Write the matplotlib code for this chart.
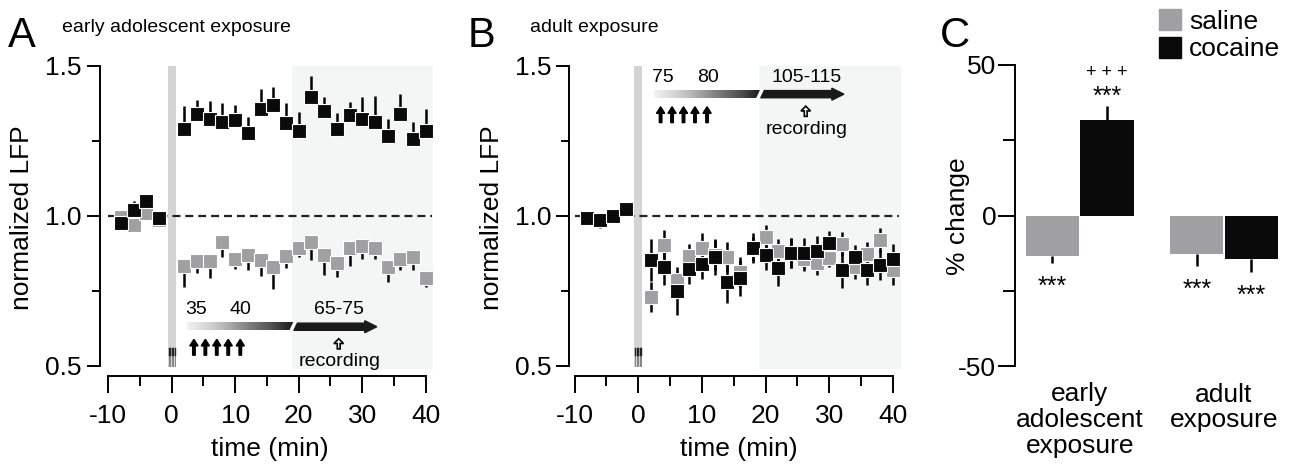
import numpy as np
import matplotlib.pyplot as plt
from matplotlib.patches import Rectangle, FancyArrow, Patch

plt.rcParams['font.family'] = ['Liberation Sans', 'DejaVu Sans']
plt.rcParams['axes.unicode_minus'] = False

# ---- data: panel A (early adolescent exposure) ----
t_base = [-8, -6, -4, -2]
t_post = [2, 4, 6, 8, 10, 12, 14, 16, 18, 20, 22, 24, 26, 28, 30, 32, 34, 36, 38, 40]

a_coc_base = [0.976, 1.018, 1.048, 0.993]
a_coc_base_err = [0.005, 0.03, 0.005, 0.02]
a_sal_base = [0.995, 0.968, 1.011, 0.985]
a_sal_base_err = [0.005, 0.005, 0.005, 0.02]

a_coc = [1.289, 1.340, 1.323, 1.313, 1.321, 1.276, 1.358, 1.371, 1.310, 1.284,
         1.396, 1.351, 1.289, 1.336, 1.324, 1.313, 1.265, 1.340, 1.257, 1.284]
a_coc_err = [0.077, 0.047, 0.059, 0.064, 0.050, 0.055, 0.066, 0.058, 0.067, 0.061,
             0.072, 0.044, 0.055, 0.044, 0.071, 0.086, 0.058, 0.066, 0.057, 0.072]
a_sal = [0.834, 0.848, 0.848, 0.912, 0.857, 0.868, 0.851, 0.829, 0.866, 0.894,
         0.912, 0.868, 0.843, 0.894, 0.901, 0.894, 0.829, 0.855, 0.863, 0.794]
a_sal_err = [0.070, 0.039, 0.057, 0.050, 0.033, 0.050, 0.053, 0.072, 0.040, 0.033,
             0.059, 0.067, 0.046, 0.062, 0.045, 0.037, 0.050, 0.037, 0.045, 0.033]

# ---- data: panel B (adult exposure) ----
b_coc_base = [0.994, 0.986, 1.000, 1.024]
b_coc_base_err = [0.015, 0.025, 0.020, 0.020]
b_sal_base = [0.988, 0.990, 0.995, 1.020]
b_sal_base_err = [0.010, 0.010, 0.010, 0.010]

b_coc = [0.852, 0.828, 0.750, 0.822, 0.839, 0.864, 0.778, 0.791, 0.892, 0.870,
         0.826, 0.876, 0.876, 0.883, 0.909, 0.819, 0.864, 0.819, 0.836, 0.856]
b_coc_err = [0.070, 0.060, 0.080, 0.050, 0.050, 0.060, 0.070, 0.060, 0.050, 0.050,
             0.060, 0.050, 0.050, 0.050, 0.040, 0.060, 0.040, 0.050, 0.050, 0.050]
b_sal = [0.730, 0.902, 0.786, 0.867, 0.894, 0.870, 0.864, 0.811, 0.890, 0.931,
         0.883, 0.875, 0.857, 0.841, 0.859, 0.906, 0.828, 0.872, 0.920, 0.820]
b_sal_err = [0.050, 0.050, 0.030, 0.040, 0.050, 0.050, 0.050, 0.050, 0.040, 0.040,
             0.040, 0.050, 0.040, 0.040, 0.030, 0.040, 0.040, 0.040, 0.040, 0.050]

# ---- data: panel C (% change) ----
groups = ['early\nadolescent\nexposure', 'adult\nexposure']
sal_pct = [-13.4, -12.7]
sal_pct_err = [2.4, 4.2]
coc_pct = [31.8, -14.5]
coc_pct_err = [4.4, 4.3]

SAL_C = '#a0a0a2'
COC_C = '#0a0a0a'
SHADE = '#f3f6f4'
FS = 19

W, H = 1297, 466
fig = plt.figure(figsize=(W / 100, H / 100), dpi=100)


def add_ax(left, right, top, bottom):
    return fig.add_axes([left / W, 1 - bottom / H, (right - left) / W, (bottom - top) / H])


def one_sided(err, up):
    z = [0] * len(err)
    return [z, err] if up else [err, z]


def protocol(ax, ybar, lab1, lab2, lab3):
    # gradient bar (injection days) + dark arrow (recording)
    grad = np.linspace(0.12, 0.92, 256).reshape(1, -1)
    ax.imshow(grad, extent=[2.4, 19.4, ybar - 0.012, ybar + 0.012], aspect='auto',
              cmap='Greys', vmin=0, vmax=1, zorder=2)
    ax.add_patch(FancyArrow(19.2, ybar, 13.1, 0, width=0.024, head_width=0.04,
                            head_length=1.9, length_includes_head=True,
                            color='#1a1a1a', zorder=2))
    ax.plot([18.7, 19.5], [ybar - 0.018, ybar + 0.018], color='white', lw=2.5,
            zorder=2.5, solid_capstyle='butt')
    for xa in [3.5, 5.3, 7.1, 8.9, 10.8]:
        ax.add_patch(FancyArrow(xa, ybar - 0.095, 0, 0.053, width=0.4, head_width=1.3,
                                head_length=0.022, length_includes_head=True,
                                color='k', zorder=3))
    ax.add_patch(FancyArrow(26.3, ybar - 0.074, 0, 0.034, width=0.45, head_width=1.5,
                            head_length=0.016, length_includes_head=True,
                            fc='white', ec='k', lw=1.2, zorder=3))
    ax.text(3.8, ybar + 0.056, lab1, fontsize=14, ha='center', va='center')
    ax.text(10.9, ybar + 0.056, lab2, fontsize=14, ha='center', va='center')
    ax.text(26.4, ybar + 0.056, lab3, fontsize=14, ha='center', va='center')
    ax.text(26.4, ybar - 0.117, 'recording', fontsize=14, ha='center', va='center')


def time_panel(ax, xl, coc_base, coc_base_err, sal_base, sal_base_err,
               coc, coc_err, sal, sal_err, two_sided):
    ax.add_patch(Rectangle((19.0, 0.49), 22.2, 1.01, color=SHADE, lw=0, zorder=0))
    ax.add_patch(Rectangle((-0.65, 0.497), 1.3, 1.003, color='#d4d4d4', lw=0, zorder=0.5))
    for xi in [-0.45, -0.22, 0, 0.22, 0.45]:
        ax.plot([xi, xi], [0.5, 0.56], color='#777777', lw=0.6, zorder=0.6)
        ax.plot([xi, xi], [0.535, 0.56], color='#222222', lw=1.0, zorder=0.6)
    ax.plot([-10, 41], [1.0, 1.0], color='#222222', lw=1.6, ls=(0, (3.6, 2.2)), zorder=1)

    ts = t_base + t_post
    if two_sided:
        ce = coc_base_err + coc_err
        se = sal_base_err + sal_err
    else:
        ce = one_sided(coc_base_err + coc_err, True)
        se = one_sided(sal_base_err + sal_err, False)
    ax.errorbar(ts, sal_base + sal, yerr=se, fmt='none', ecolor='k', elinewidth=1.8,
                capsize=0, zorder=3)
    ax.errorbar(ts, coc_base + coc, yerr=ce, fmt='none', ecolor='k', elinewidth=1.8,
                capsize=0, zorder=3)
    ax.plot(ts, sal_base + sal, 's', color=SAL_C, ms=9.5, mec='white', mew=0.8, zorder=4)
    ax.plot(ts, coc_base + coc, 's', color=COC_C, ms=9.5, mec='white', mew=0.8, zorder=5)

    for s in ['top', 'right']:
        ax.spines[s].set_visible(False)
    ax.spines['left'].set_bounds(0.5, 1.5)
    ax.spines['bottom'].set_bounds(-10, 40)
    for s in ['left', 'bottom']:
        ax.spines[s].set_linewidth(1.4)
    ax.set_yticks([0.5, 1.0, 1.5])
    ax.set_yticklabels(['0.5', '1.0', '1.5'])
    ax.set_yticks([0.75, 1.25], minor=True)
    ax.set_xticks([-10, 0, 10, 20, 30, 40])
    ax.set_xticks([-5, 5, 15, 25, 35], minor=True)
    ax.tick_params(axis='y', which='major', length=9.5, width=1.4, labelsize=FS, pad=3.5)
    ax.tick_params(axis='y', which='minor', length=5.5, width=1.4)
    ax.tick_params(axis='x', which='major', length=12.5, width=1.4, labelsize=FS, pad=8)
    ax.tick_params(axis='x', which='minor', length=7, width=1.4)
    ax.set_xlabel('time (min)', fontsize=FS, labelpad=6)
    ax.set_ylabel('normalized LFP', fontsize=FS, labelpad=8)
    ax.set_xlim(*xl)
    ax.set_ylim(0.4666, 1.52)


# ---- panel A ----
axA = add_ax(100, 440, 60, 375.7)
time_panel(axA, (-11.29, 42.25), a_coc_base, a_coc_base_err, a_sal_base, a_sal_base_err,
           a_coc, a_coc_err, a_sal, a_sal_err, two_sided=False)
protocol(axA, 0.63, '35', '40', '65-75')
axA.set_xlim(-11.29, 42.25)
axA.set_ylim(0.4666, 1.52)

# ---- panel B ----
axB = add_ax(569.3, 909, 60, 375.7)
time_panel(axB, (-10.84, 42.52), b_coc_base, b_coc_base_err, b_sal_base, b_sal_base_err,
           b_coc, b_coc_err, b_sal, b_sal_err, two_sided=True)
protocol(axB, 1.406, '75', '80', '105-115')
axB.set_xlim(-10.84, 42.52)
axB.set_ylim(0.4666, 1.52)

# ---- panel C ----
axC = add_ax(1015, 1290, 55, 370)
gx = np.array([0, 2.648])
axC.bar(gx - 0.5, sal_pct, width=0.98, color=SAL_C, zorder=2)
axC.bar(gx + 0.5, coc_pct, width=0.98, color=COC_C, zorder=2)
for xs, vals, errs in [(gx - 0.5, sal_pct, sal_pct_err), (gx + 0.5, coc_pct, coc_pct_err)]:
    lo = [e if v < 0 else 0 for v, e in zip(vals, errs)]
    hi = [e if v >= 0 else 0 for v, e in zip(vals, errs)]
    axC.errorbar(xs, vals, yerr=[lo, hi], fmt='none', ecolor='k', elinewidth=1.8,
                 capsize=0, zorder=1)
    for x, v, e in zip(xs, vals, errs):
        end = v + e if v >= 0 else v - e
        off = 2 if v >= 0 else -22
        axC.annotate('***', (x, end), xytext=(0, off), textcoords='offset points',
                     ha='center', va='baseline', fontsize=18)
axC.annotate('+ + +', (gx[0] + 0.5, coc_pct[0] + coc_pct_err[0]), xytext=(0, 21),
             textcoords='offset points', ha='center', va='baseline', fontsize=13)
axC.set_xlim(-1.187, 3.859)
axC.set_ylim(-51.3, 53.3)
for s in ['top', 'right', 'bottom']:
    axC.spines[s].set_visible(False)
axC.spines['left'].set_bounds(-50, 50)
axC.spines['left'].set_linewidth(1.4)
axC.set_yticks([-50, 0, 50])
axC.set_yticks([-25, 25], minor=True)
axC.tick_params(axis='y', which='major', length=12.5, width=1.4, labelsize=FS, pad=1)
axC.tick_params(axis='y', which='minor', length=8.5, width=1.4)
axC.set_xticks(gx)
axC.set_xticklabels(groups, fontsize=FS, linespacing=1.1)
axC.tick_params(axis='x', length=0, pad=9)
axC.set_ylabel('% change', fontsize=FS)
axC.yaxis.set_label_coords(-0.165, 0.487)
axC.legend(handles=[Patch(color=SAL_C), Patch(color=COC_C)], labels=['saline', 'cocaine'],
           loc='upper left', bbox_to_anchor=(1159 / W, 1 - 9 / H),
           bbox_transform=fig.transFigure, frameon=False, fontsize=FS,
           handlelength=0.85, handleheight=0.85, handletextpad=0.3,
           labelspacing=0.12, borderpad=0, borderaxespad=0)

# ---- panel letters and titles ----
fig.text(8 / W, 1 - 47 / H, 'A', fontsize=30, va='baseline')
fig.text(62 / W, 1 - 32 / H, 'early adolescent exposure', fontsize=14, va='baseline')
fig.text(468 / W, 1 - 47 / H, 'B', fontsize=30, va='baseline')
fig.text(530 / W, 1 - 32 / H, 'adult exposure', fontsize=14, va='baseline')
fig.text(940 / W, 1 - 47 / H, 'C', fontsize=30, va='baseline')

fig.savefig('out.png', dpi=100)
